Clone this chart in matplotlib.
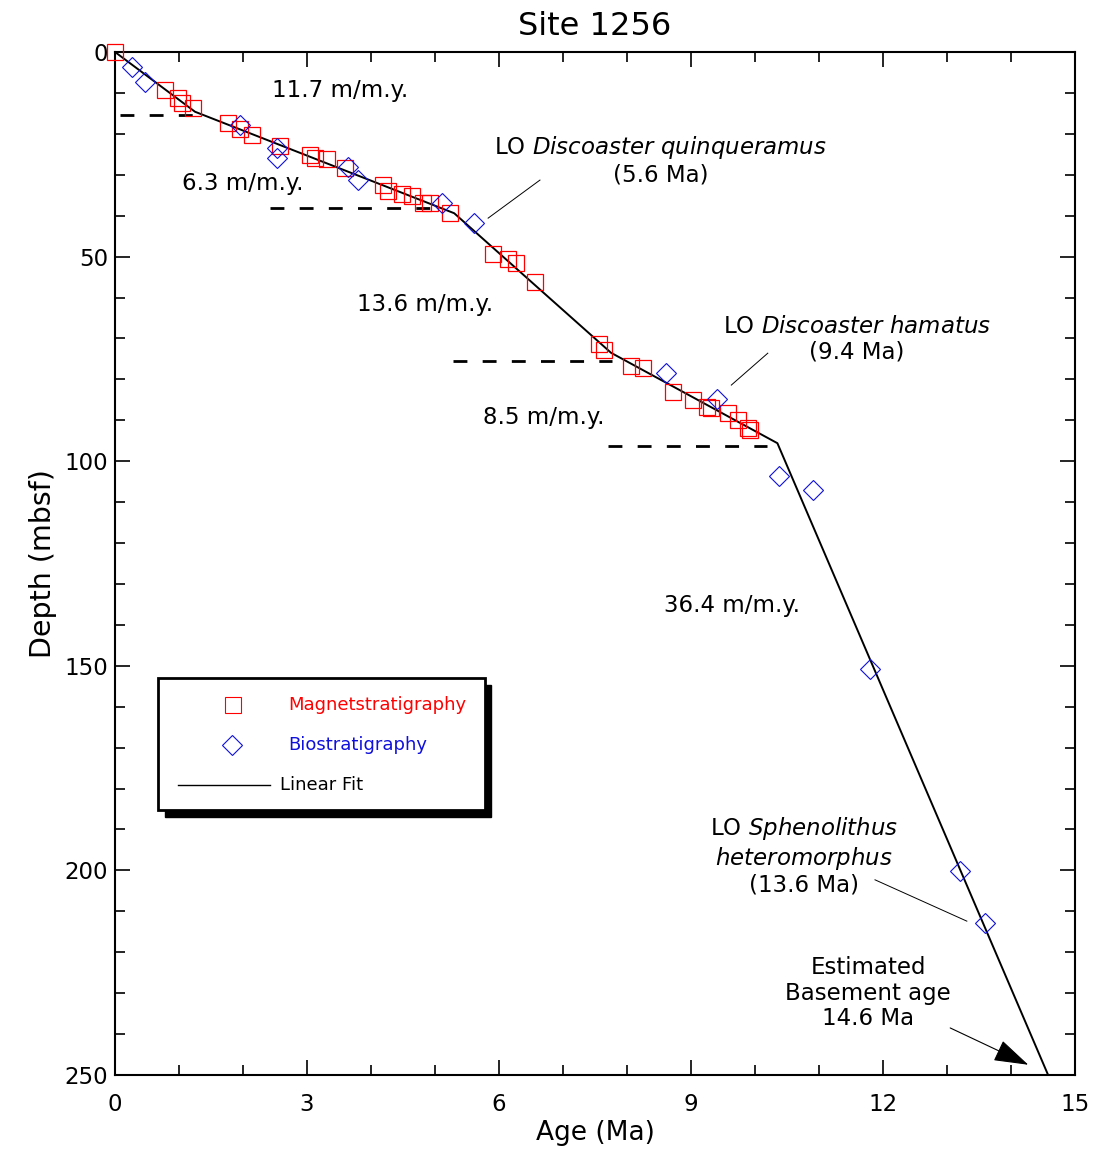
"""
Age-depth plot for Site 1256: magnetostratigraphic and biostratigraphic datums
with a piecewise linear sedimentation-rate fit.
"""

import numpy as np
import matplotlib
matplotlib.use('Agg')
import matplotlib.pyplot as plt
from matplotlib.patches import Rectangle
from matplotlib.lines import Line2D

plt.rcParams['font.family'] = ['DejaVu Sans']
plt.rcParams['mathtext.fontset'] = 'dejavusans'

### data ###

# magnetostratigraphy datums (age Ma, depth mbsf)
mag_age = [0.0, 0.78, 0.98, 1.05, 1.22, 1.77, 1.95, 2.14, 2.58, 3.05, 3.13, 3.31,
           3.59, 4.19, 4.27, 4.48, 4.64, 4.81, 4.92, 5.23, 5.91, 6.14, 6.27, 6.56,
           7.56, 7.64, 8.06, 8.25, 8.72, 9.03, 9.25, 9.31, 9.58, 9.73, 9.89, 9.92]
mag_depth = [0.0, 9.3, 11.3, 12.5, 13.8, 17.4, 18.9, 20.3, 23.0, 25.2, 25.9, 26.2,
             28.3, 32.5, 33.9, 34.7, 35.2, 36.9, 37.0, 39.3, 49.4, 50.7, 51.5, 56.3,
             71.4, 72.8, 76.7, 77.3, 83.1, 85.1, 86.7, 87.0, 88.3, 89.9, 91.9, 92.4]

# biostratigraphy datums
bio_age = [0.26, 0.47, 1.95, 2.53, 2.53, 3.64, 3.80, 5.11, 5.61, 8.61, 9.41,
           10.38, 10.91, 11.80, 13.20, 13.59]
bio_depth = [3.6, 7.3, 17.8, 23.5, 25.9, 28.1, 31.3, 36.9, 41.7, 78.4, 84.8,
             103.6, 107.0, 150.8, 200.1, 212.8]

# linear fit break points
fit_age = [0.0, 1.25, 5.3, 7.75, 10.35, 14.58]
fit_depth = [0.0, 14.6, 39.4, 73.5, 95.6, 250.0]

# segment boundaries (dashed): depth, age start, age end
seg_depth = [15.4, 38.1, 75.5, 96.3]
seg_start = [0.08, 2.42, 5.28, 7.70]
seg_end = [1.25, 5.10, 7.77, 10.19]

# sedimentation rate labels
rate_labels = ['11.7 m/m.y.', '6.3 m/m.y.', '13.6 m/m.y.', '8.5 m/m.y.', '36.4 m/m.y.']
rate_age = [3.52, 1.99, 4.84, 6.70, 9.64]
rate_depth = [9.5, 32.2, 61.8, 89.2, 135.3]

BLUE = '#1010dd'
FS = 16.5


def main():
    fig = plt.figure(figsize=(10.94, 11.5), dpi=100)
    ax = fig.add_axes([115/1094, 1 - 1075/1150, 960/1094, 1023/1150])

    ax.plot(fit_age, fit_depth, 'k-', lw=1.4, zorder=2)
    for d, a0, a1 in zip(seg_depth, seg_start, seg_end):
        ax.plot([a0, a1], [d, d], 'k--', lw=2, dashes=(5, 5.5), zorder=2)

    ax.plot(mag_age, mag_depth, 's', ms=11.8, mfc='none', mec='red', mew=0.9,
            zorder=3, clip_on=False)
    ax.plot(bio_age, bio_depth, 'D', ms=10.5, mfc='none', mec=BLUE, mew=0.8,
            zorder=3, clip_on=False)

    for txt, a, d in zip(rate_labels, rate_age, rate_depth):
        ax.text(a, d, txt, fontsize=FS, ha='center', va='center')

    # datum annotations
    ax.text(8.52, 26.4, 'LO $\\it{Discoaster\\ quinqueramus}$\n(5.6 Ma)',
            fontsize=FS, ha='center', va='center', linespacing=1.12)
    ax.plot([6.64, 5.83], [31.3, 40.6], 'k-', lw=0.7)
    ax.text(11.59, 70.2, 'LO $\\it{Discoaster\\ hamatus}$\n(9.4 Ma)',
            fontsize=FS, ha='center', va='center', linespacing=1.12)
    ax.plot([10.2, 9.63], [73.6, 81.4], 'k-', lw=0.7)
    ax.text(10.77, 196.5, 'LO $\\it{Sphenolithus}$\n$\\it{heteromorphus}$\n(13.6 Ma)',
            fontsize=FS, ha='center', va='center', linespacing=1.12)
    ax.plot([11.875, 13.31], [202.3, 212.4], 'k-', lw=0.7)
    ax.text(11.77, 230.0, 'Estimated\nBasement age\n14.6 Ma',
            fontsize=FS, ha='center', va='center', linespacing=1.15)
    ax.annotate('', xy=(14.27, 247.5), xytext=(13.05, 238.5),
                arrowprops=dict(arrowstyle='-|>,head_length=1.0,head_width=0.32',
                                color='k', lw=0.8, mutation_scale=22,
                                shrinkA=0, shrinkB=0))

    # hand-drawn legend with drop shadow
    tr = ax.transAxes
    ax.add_patch(Rectangle((0.0448 + 0.007, 0.259 - 0.0065), 0.3402, 0.129,
                           transform=tr, facecolor='k', edgecolor='k', zorder=5))
    ax.add_patch(Rectangle((0.0448, 0.259), 0.3402, 0.129, transform=tr,
                           facecolor='white', edgecolor='k', lw=2, zorder=6))
    ax.add_line(Line2D([0.1229], [0.3617], marker='s', ms=11.3, mfc='none', mec='red',
                       mew=0.8, transform=tr, zorder=7))
    ax.add_line(Line2D([0.1219], [0.3226], marker='D', ms=10.5, mfc='none', mec=BLUE,
                       mew=0.8, transform=tr, zorder=7))
    ax.add_line(Line2D([0.0656, 0.1615], [0.2835, 0.2835], color='k', lw=1,
                       transform=tr, zorder=7))
    ax.text(0.1802, 0.3617, 'Magnetstratigraphy', color='red', fontsize=13,
            transform=tr, va='center', zorder=7)
    ax.text(0.1802, 0.3226, 'Biostratigraphy', color=BLUE, fontsize=13,
            transform=tr, va='center', zorder=7)
    ax.text(0.1719, 0.2835, 'Linear Fit', color='k', fontsize=13,
            transform=tr, va='center', zorder=7)

    ax.set_xlim(0, 15)
    ax.set_ylim(250, 0)
    ax.set_xticks(np.arange(0, 16, 3))
    ax.set_xticks(np.arange(0, 16, 1), minor=True)
    ax.set_yticks(np.arange(0, 251, 50))
    ax.set_yticks(np.arange(0, 251, 10), minor=True)
    ax.tick_params(which='both', direction='in', top=True, right=True, width=1.2,
                   labelsize=FS)
    ax.tick_params(which='major', length=11)
    ax.tick_params(which='minor', length=7)
    ax.tick_params(axis='x', pad=13)
    ax.tick_params(axis='y', pad=5)
    for s in ax.spines.values():
        s.set_linewidth(1.5)

    ax.set_xlabel('Age (Ma)', fontsize=19, labelpad=3)
    ax.set_ylabel('Depth (mbsf)', fontsize=20.5, labelpad=5)
    ax.set_title('Site 1256', fontsize=23, pad=12)

    fig.savefig('out.png', dpi=100)


if __name__ == '__main__':
    main()
